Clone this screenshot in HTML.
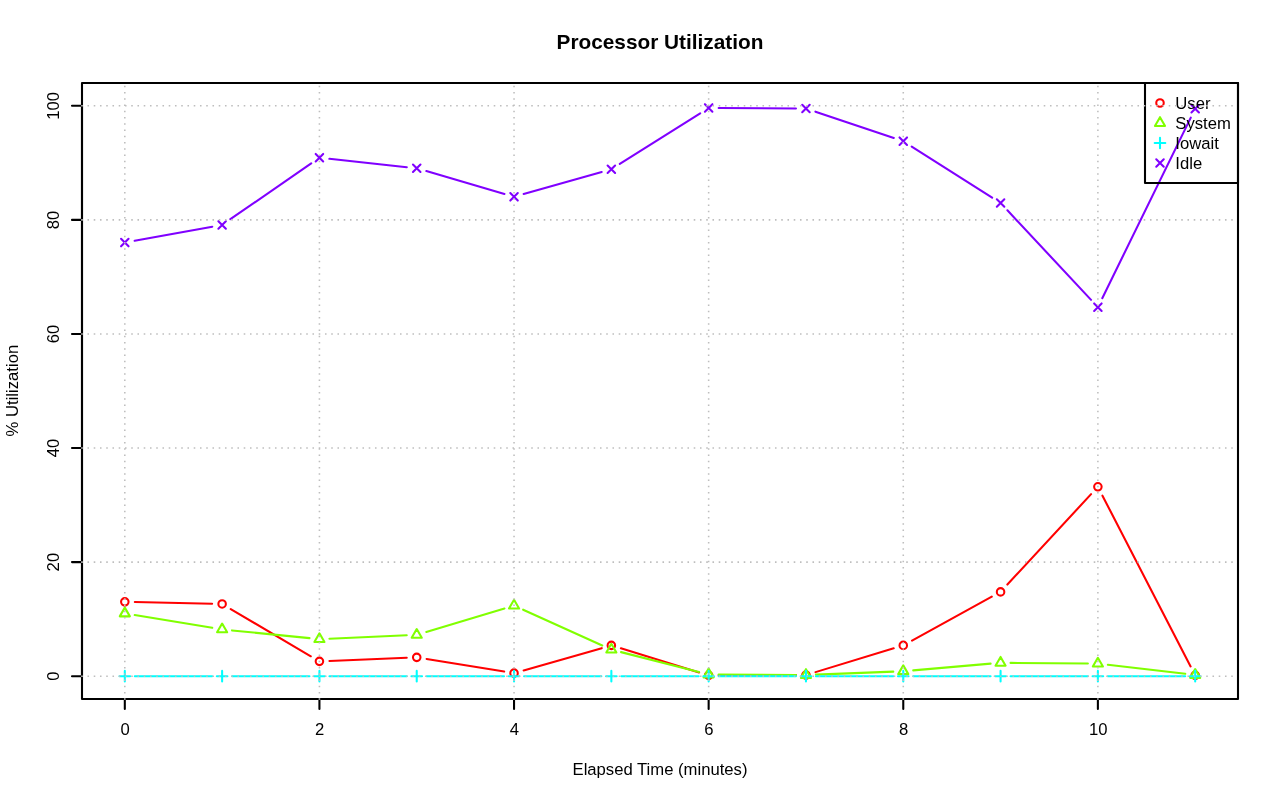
<!DOCTYPE html>
<html lang="en">
<head>
<meta charset="utf-8">
<title>Processor Utilization</title>
<style>
html,body{margin:0;padding:0;background:#fff;}
body{width:1280px;height:801px;overflow:hidden;}
svg{display:block;}
</style>
</head>
<body>
<svg width="1280" height="801" viewBox="0 0 1280 801" font-family="'Liberation Sans', Arial, Helvetica, sans-serif" font-size="16.67" fill="#000">
<rect width="1280" height="801" fill="#fff"/>
<g id="series">
<path d="M134.81 602.08L212.12 603.76M230.74 609.06L310.81 656.28M329.42 660.95L406.74 657.77M426.6 658.97L504.17 671.56M523.66 670.42L601.73 648.13M620.9 648.33L699.1 672.39M718.65 675.3L795.96 675.07M815.53 672.13L893.7 648.3M912.03 640.57L991.81 596.7M1007.37 584.55L1091.08 494.16M1102.47 495.71L1190.6 666.44" fill="none" stroke="#FF0000" stroke-width="2.08" stroke-linecap="round"/>
<circle cx="124.81" cy="601.87" r="3.75" fill="none" stroke="#FF0000" stroke-width="2.08"/>
<circle cx="222.12" cy="603.98" r="3.75" fill="none" stroke="#FF0000" stroke-width="2.08"/>
<circle cx="319.43" cy="661.36" r="3.75" fill="none" stroke="#FF0000" stroke-width="2.08"/>
<circle cx="416.73" cy="657.36" r="3.75" fill="none" stroke="#FF0000" stroke-width="2.08"/>
<circle cx="514.04" cy="673.16" r="3.75" fill="none" stroke="#FF0000" stroke-width="2.08"/>
<circle cx="611.35" cy="645.39" r="3.75" fill="none" stroke="#FF0000" stroke-width="2.08"/>
<circle cx="708.65" cy="675.33" r="3.75" fill="none" stroke="#FF0000" stroke-width="2.08"/>
<circle cx="805.96" cy="675.04" r="3.75" fill="none" stroke="#FF0000" stroke-width="2.08"/>
<circle cx="903.27" cy="645.39" r="3.75" fill="none" stroke="#FF0000" stroke-width="2.08"/>
<circle cx="1000.57" cy="591.88" r="3.75" fill="none" stroke="#FF0000" stroke-width="2.08"/>
<circle cx="1097.88" cy="486.82" r="3.75" fill="none" stroke="#FF0000" stroke-width="2.08"/>
<circle cx="1195.19" cy="675.33" r="3.75" fill="none" stroke="#FF0000" stroke-width="2.08"/>
<path d="M134.68 615.06L212.25 627.8M232.07 630.41L309.48 638.12M329.42 638.68L406.74 635.32M426.31 632.01L504.47 608.46M523.15 609.7L602.24 645.54M621.04 652.13L698.96 672M718.65 674.53L795.96 674.99M815.95 674.65L893.27 671.62M913.23 670.36L990.61 663.65M1010.57 662.87L1087.88 663.55M1107.81 664.79L1185.25 673.78" fill="none" stroke="#80FF00" stroke-width="2.08" stroke-linecap="round"/>
<path d="M124.81 607.61L129.87 616.36L119.76 616.36Z" fill="none" stroke="#80FF00" stroke-width="2.08" stroke-linejoin="round"/>
<path d="M222.12 623.58L227.17 632.33L217.07 632.33Z" fill="none" stroke="#80FF00" stroke-width="2.08" stroke-linejoin="round"/>
<path d="M319.43 633.28L324.48 642.03L314.38 642.03Z" fill="none" stroke="#80FF00" stroke-width="2.08" stroke-linejoin="round"/>
<path d="M416.73 629.06L421.78 637.81L411.68 637.81Z" fill="none" stroke="#80FF00" stroke-width="2.08" stroke-linejoin="round"/>
<path d="M514.04 599.74L519.09 608.49L508.99 608.49Z" fill="none" stroke="#80FF00" stroke-width="2.08" stroke-linejoin="round"/>
<path d="M611.35 643.83L616.4 652.58L606.3 652.58Z" fill="none" stroke="#80FF00" stroke-width="2.08" stroke-linejoin="round"/>
<path d="M708.65 668.64L713.7 677.39L703.6 677.39Z" fill="none" stroke="#80FF00" stroke-width="2.08" stroke-linejoin="round"/>
<path d="M805.96 669.21L811.01 677.96L800.91 677.96Z" fill="none" stroke="#80FF00" stroke-width="2.08" stroke-linejoin="round"/>
<path d="M903.27 665.39L908.32 674.14L898.22 674.14Z" fill="none" stroke="#80FF00" stroke-width="2.08" stroke-linejoin="round"/>
<path d="M1000.57 656.95L1005.62 665.7L995.52 665.7Z" fill="none" stroke="#80FF00" stroke-width="2.08" stroke-linejoin="round"/>
<path d="M1097.88 657.81L1102.93 666.55L1092.83 666.55Z" fill="none" stroke="#80FF00" stroke-width="2.08" stroke-linejoin="round"/>
<path d="M1195.19 669.1L1200.24 677.85L1190.13 677.85Z" fill="none" stroke="#80FF00" stroke-width="2.08" stroke-linejoin="round"/>
<path d="M134.81 676.19L212.12 676.19M232.12 676.19L309.43 676.19M329.43 676.19L406.73 676.19M426.73 676.19L504.04 676.19M524.04 676.19L601.35 676.19M621.35 676.19L698.65 676.19M718.65 676.19L795.96 676.19M815.96 676.19L893.27 676.19M913.27 676.19L990.57 676.19M1010.57 676.19L1087.88 676.19M1107.88 676.19L1185.19 676.19" fill="none" stroke="#00FFFF" stroke-width="2.08" stroke-linecap="round"/>
<path d="M119.51 676.19H130.12M124.81 670.88V681.49" fill="none" stroke="#00FFFF" stroke-width="2.08" stroke-linecap="round"/>
<path d="M216.82 676.19H227.42M222.12 670.88V681.49" fill="none" stroke="#00FFFF" stroke-width="2.08" stroke-linecap="round"/>
<path d="M314.12 676.19H324.73M319.43 670.88V681.49" fill="none" stroke="#00FFFF" stroke-width="2.08" stroke-linecap="round"/>
<path d="M411.43 676.19H422.04M416.73 670.88V681.49" fill="none" stroke="#00FFFF" stroke-width="2.08" stroke-linecap="round"/>
<path d="M508.74 676.19H519.34M514.04 670.88V681.49" fill="none" stroke="#00FFFF" stroke-width="2.08" stroke-linecap="round"/>
<path d="M606.04 676.19H616.65M611.35 670.88V681.49" fill="none" stroke="#00FFFF" stroke-width="2.08" stroke-linecap="round"/>
<path d="M703.35 676.19H713.96M708.65 670.88V681.49" fill="none" stroke="#00FFFF" stroke-width="2.08" stroke-linecap="round"/>
<path d="M800.66 676.19H811.26M805.96 670.88V681.49" fill="none" stroke="#00FFFF" stroke-width="2.08" stroke-linecap="round"/>
<path d="M897.96 676.19H908.57M903.27 670.88V681.49" fill="none" stroke="#00FFFF" stroke-width="2.08" stroke-linecap="round"/>
<path d="M995.27 676.19H1005.88M1000.57 670.88V681.49" fill="none" stroke="#00FFFF" stroke-width="2.08" stroke-linecap="round"/>
<path d="M1092.58 676.19H1103.18M1097.88 670.88V681.49" fill="none" stroke="#00FFFF" stroke-width="2.08" stroke-linecap="round"/>
<path d="M1189.88 676.19H1200.49M1195.19 670.88V681.49" fill="none" stroke="#00FFFF" stroke-width="2.08" stroke-linecap="round"/>
<path d="M134.65 240.8L212.28 226.7M230.35 219.23L311.2 163.4M329.37 158.8L406.79 167.19M426.33 171.08L504.44 193.98M523.66 194.06L601.72 171.96M619.81 163.91L700.19 113.26M718.65 107.98L795.96 108.44M815.44 111.68L893.79 137.99M911.71 146.54L992.13 197.64M1007.4 210.31L1091.05 299.85M1102.28 298.18L1190.78 117.65" fill="none" stroke="#8000FF" stroke-width="2.08" stroke-linecap="round"/>
<path d="M121.06 238.84L128.56 246.34M121.06 246.34L128.56 238.84" fill="none" stroke="#8000FF" stroke-width="2.08" stroke-linecap="round"/>
<path d="M218.37 221.16L225.87 228.66M218.37 228.66L225.87 221.16" fill="none" stroke="#8000FF" stroke-width="2.08" stroke-linecap="round"/>
<path d="M315.68 153.97L323.18 161.47M315.68 161.47L323.18 153.97" fill="none" stroke="#8000FF" stroke-width="2.08" stroke-linecap="round"/>
<path d="M412.98 164.52L420.48 172.02M412.98 172.02L420.48 164.52" fill="none" stroke="#8000FF" stroke-width="2.08" stroke-linecap="round"/>
<path d="M510.29 193.04L517.79 200.54M510.29 200.54L517.79 193.04" fill="none" stroke="#8000FF" stroke-width="2.08" stroke-linecap="round"/>
<path d="M607.6 165.49L615.1 172.99M607.6 172.99L615.1 165.49" fill="none" stroke="#8000FF" stroke-width="2.08" stroke-linecap="round"/>
<path d="M704.9 104.18L712.4 111.68M704.9 111.68L712.4 104.18" fill="none" stroke="#8000FF" stroke-width="2.08" stroke-linecap="round"/>
<path d="M802.21 104.75L809.71 112.25M802.21 112.25L809.71 104.75" fill="none" stroke="#8000FF" stroke-width="2.08" stroke-linecap="round"/>
<path d="M899.52 137.43L907.02 144.93M899.52 144.93L907.02 137.43" fill="none" stroke="#8000FF" stroke-width="2.08" stroke-linecap="round"/>
<path d="M996.82 199.26L1004.32 206.76M996.82 206.76L1004.32 199.26" fill="none" stroke="#8000FF" stroke-width="2.08" stroke-linecap="round"/>
<path d="M1094.13 303.41L1101.63 310.91M1094.13 310.91L1101.63 303.41" fill="none" stroke="#8000FF" stroke-width="2.08" stroke-linecap="round"/>
<path d="M1191.44 104.92L1198.94 112.42M1191.44 112.42L1198.94 104.92" fill="none" stroke="#8000FF" stroke-width="2.08" stroke-linecap="round"/>
</g>
<path d="M124.81 699H1097.88M124.81 699V709M319.43 699V709M514.04 699V709M708.65 699V709M903.27 699V709M1097.88 699V709M82 676.19V105.81M82 676.19H72M82 562.11H72M82 448.04H72M82 333.96H72M82 219.89H72M82 105.81H72" fill="none" stroke="#000" stroke-width="2.08" stroke-linecap="round"/>
<text x="125.11" y="735" text-anchor="middle">0</text>
<text x="319.73" y="735" text-anchor="middle">2</text>
<text x="514.34" y="735" text-anchor="middle">4</text>
<text x="708.95" y="735" text-anchor="middle">6</text>
<text x="903.57" y="735" text-anchor="middle">8</text>
<text x="1098.18" y="735" text-anchor="middle">10</text>
<text transform="translate(58.5 676.19) rotate(-90)" text-anchor="middle">0</text>
<text transform="translate(58.5 562.11) rotate(-90)" text-anchor="middle">20</text>
<text transform="translate(58.5 448.04) rotate(-90)" text-anchor="middle">40</text>
<text transform="translate(58.5 333.96) rotate(-90)" text-anchor="middle">60</text>
<text transform="translate(58.5 219.89) rotate(-90)" text-anchor="middle">80</text>
<text transform="translate(58.5 105.81) rotate(-90)" text-anchor="middle">100</text>
<rect x="82" y="83" width="1156" height="616" fill="none" stroke="#000" stroke-width="2.08" stroke-linejoin="round"/>
<text x="660" y="49.4" text-anchor="middle" font-size="20.8" font-weight="bold">Processor Utilization</text>
<text x="660" y="774.8" text-anchor="middle">Elapsed Time (minutes)</text>
<text transform="translate(18.1 390.6) rotate(-90)" text-anchor="middle">% Utilization</text>
<rect x="1145" y="83" width="93" height="100" fill="none" stroke="#000" stroke-width="2.08" stroke-linejoin="round"/>
<circle cx="1160" cy="103" r="3.75" fill="none" stroke="#FF0000" stroke-width="2.08"/>
<text x="1175.3" y="108.5">User</text>
<path d="M1160 117.17L1165.05 125.92L1154.95 125.92Z" fill="none" stroke="#80FF00" stroke-width="2.08" stroke-linejoin="round"/>
<text x="1175.3" y="128.5">System</text>
<path d="M1154.7 143H1165.3M1160 137.7V148.3" fill="none" stroke="#00FFFF" stroke-width="2.08" stroke-linecap="round"/>
<text x="1175.3" y="148.5">Iowait</text>
<path d="M1156.25 159.25L1163.75 166.75M1156.25 166.75L1163.75 159.25" fill="none" stroke="#8000FF" stroke-width="2.08" stroke-linecap="round"/>
<text x="1175.3" y="168.5">Idle</text>
<path d="M124.81 699V83M319.43 699V83M514.04 699V83M708.65 699V83M903.27 699V83M1097.88 699V83M82 676.19H1238M82 562.11H1238M82 448.04H1238M82 333.96H1238M82 219.89H1238M82 105.81H1238" fill="none" stroke="#BEBEBE" stroke-width="1.5625" stroke-linecap="square" stroke-dasharray="0.01 6.24"/>
</svg>
</body>
</html>
